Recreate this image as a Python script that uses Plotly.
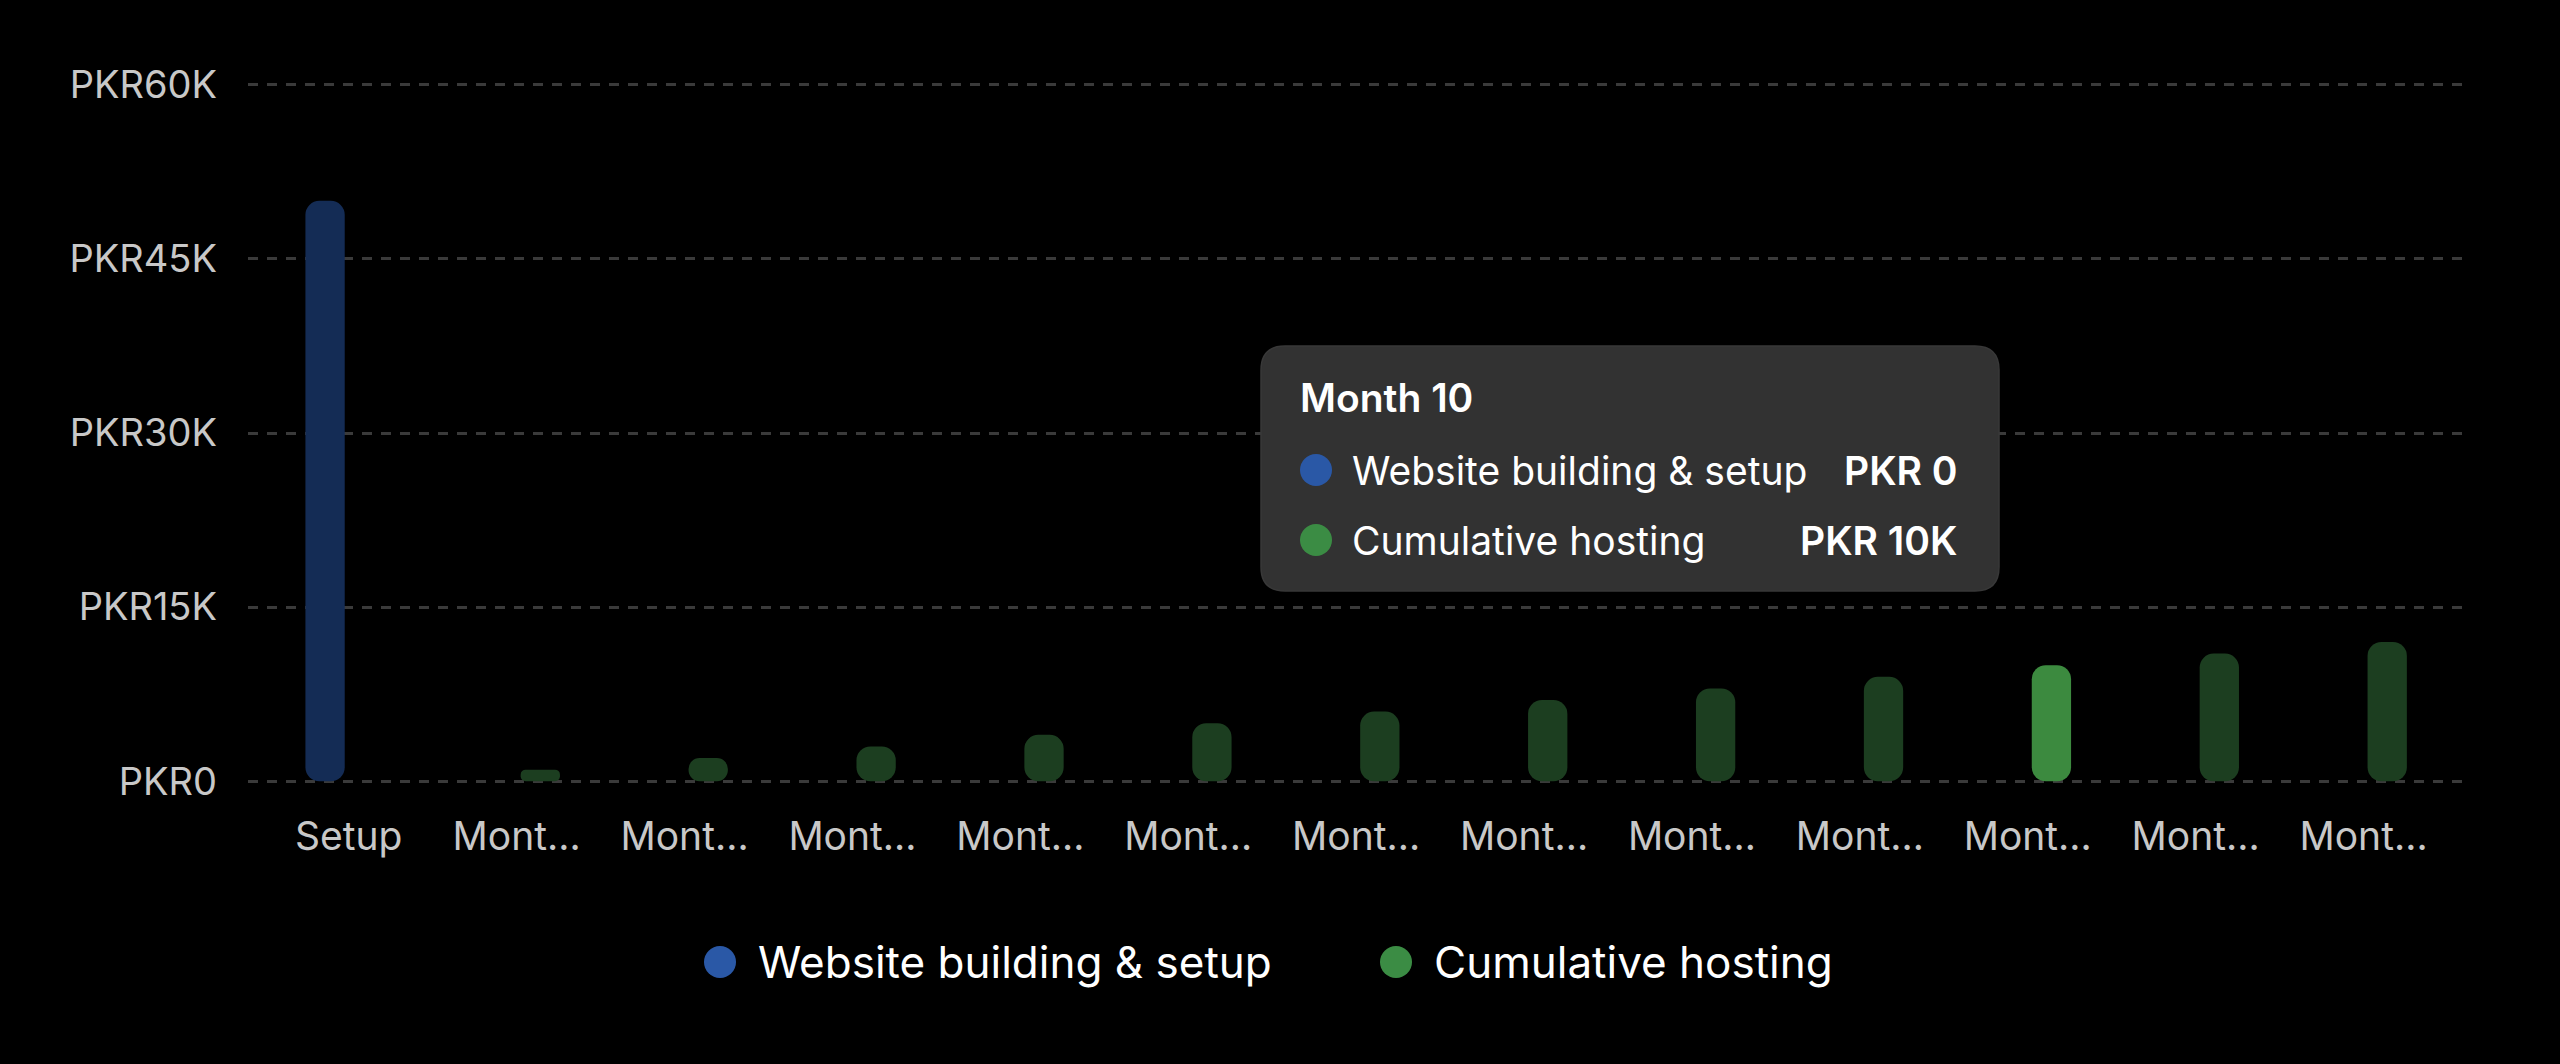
import plotly.graph_objects as go

# ---------------- data ----------------
categories = ["Setup", "Month 1", "Month 2", "Month 3", "Month 4", "Month 5", "Month 6",
              "Month 7", "Month 8", "Month 9", "Month 10", "Month 11", "Month 12"]
tick_labels = ["Setup", "Mont…", "Mont…", "Mont…", "Mont…", "Mont…", "Mont…",
               "Mont…", "Mont…", "Mont…", "Mont…", "Mont…", "Mont…"]
setup_values = [50000, 0, 0, 0, 0, 0, 0, 0, 0, 0, 0, 0, 0]
hosting_values = [0, 1000, 2000, 3000, 4000, 5000, 6000, 7000, 8000, 9000, 10000, 11000, 12000]
y_tick_vals = [0, 15000, 30000, 45000, 60000]
y_tick_text = ["PKR0", "PKR15K", "PKR30K", "PKR45K", "PKR60K"]
series_names = ["Website building & setup", "Cumulative hosting"]
hover_category = "Month 10"
hover_values = ["PKR 0", "PKR 10K"]

# ---------------- style ----------------
FONT = "Inter"
BLUE = "#2a58a6"
GREEN = "#3b8c44"
BLUE_BAR = "#142c55"
GREEN_BAR = "#1c3e20"
GREEN_HI = "#3c8a3f"
W, H = 2560, 1064
L, R, T, B = 248, 89, 83, 281
PW, PH = W - L - R, H - T - B


def px(x):
    return (x - L) / PW


def py(y):
    return (H - B - y) / PH


hi_idx = categories.index(hover_category)
green_colors = [GREEN_HI if i == hi_idx else GREEN_BAR for i in range(len(categories))]

fig = go.Figure()
for vals, colors, name in [(setup_values, BLUE_BAR, series_names[0]),
                           (hosting_values, green_colors, series_names[1])]:
    fig.add_trace(go.Bar(x=categories, y=vals, base=[0] * len(vals), name=name,
                         marker=dict(color=colors, line=dict(width=0)),
                         showlegend=False,
                         hovertemplate="%{x}<br>" + name + ": PKR %{y:,}<extra></extra>"))

shapes = []
annotations = []

# tooltip box (rounded rectangle)
bx0, bx1, by0, by1, rad = 1261, 1999, 346, 591, 24
rx, ry = rad / PW, rad / PH
x0, x1, y0, y1 = px(bx0), px(bx1), py(by1), py(by0)
path = (f"M {x0+rx},{y0} L {x1-rx},{y0} Q {x1},{y0} {x1},{y0+ry} "
        f"L {x1},{y1-ry} Q {x1},{y1} {x1-rx},{y1} L {x0+rx},{y1} "
        f"Q {x0},{y1} {x0},{y1-ry} L {x0},{y0+ry} Q {x0},{y0} {x0+rx},{y0} Z")
shapes.append(dict(type="path", path=path, xref="paper", yref="paper",
                   fillcolor="#323232", line=dict(color="#383838", width=1.5), layer="above"))

annotations.append(dict(x=px(1298), y=py(398), xref="paper", yref="paper", text=hover_category,
                        showarrow=False, xanchor="left", yanchor="middle",
                        font=dict(family=FONT, size=39, color="#ffffff", weight=600)))
for name, val, col, cy in zip(series_names, hover_values, [BLUE, GREEN], [470, 540]):
    shapes.append(dict(type="circle", xref="paper", yref="paper",
                       x0=px(1316 - 16), x1=px(1316 + 16), y0=py(cy + 16), y1=py(cy - 16),
                       fillcolor=col, line=dict(width=0), layer="above"))
    annotations.append(dict(x=px(1350), y=py(cy), xref="paper", yref="paper", text=name,
                            showarrow=False, xanchor="left", yanchor="middle",
                            font=dict(family=FONT, size=39, color="#ffffff")))
    annotations.append(dict(x=px(1960), y=py(cy), xref="paper", yref="paper", text=val,
                            showarrow=False, xanchor="right", yanchor="middle",
                            font=dict(family=FONT, size=39, color="#ffffff", weight=600)))

# legend (circle markers + text)
for name, col, cx, tx in zip(series_names, [BLUE, GREEN], [720, 1396], [756, 1432]):
    shapes.append(dict(type="circle", xref="paper", yref="paper",
                       x0=px(cx - 16), x1=px(cx + 16), y0=py(962 + 16), y1=py(962 - 16),
                       fillcolor=col, line=dict(width=0)))
    annotations.append(dict(x=px(tx), y=py(962), xref="paper", yref="paper", text=name,
                            showarrow=False, xanchor="left", yanchor="middle",
                            font=dict(family=FONT, size=44, color="#ffffff")))

fig.update_layout(
    width=W, height=H,
    margin=dict(l=L, r=R, t=T, b=B),
    paper_bgcolor="#000000", plot_bgcolor="#000000",
    barmode="group", bargap=0.436, bargroupgap=0.17,
    barcornerradius=14,
    font=dict(family=FONT, color="#c8c8c8"),
    showlegend=False,
    shapes=shapes, annotations=annotations,
    xaxis=dict(
        type="category", range=[-0.6, 12.64],
        tickmode="array", tickvals=categories, ticktext=tick_labels,
        tickfont=dict(family=FONT, size=39, color="#c8c8c8"),
        showgrid=False, zeroline=False, showline=False, ticks="",
        ticklabelstandoff=27, fixedrange=True,
    ),
    yaxis=dict(
        range=[-150, 60150], tickmode="array", tickvals=y_tick_vals, ticktext=y_tick_text,
        tickfont=dict(family=FONT, size=38, color="#c8c8c8"),
        showgrid=True, gridcolor="#3a3a3a", griddash="10px,9px", gridwidth=2.5,
        zeroline=False, showline=False, ticks="", ticklabelstandoff=30, fixedrange=True,
    ),
)

fig.write_html(
    "out.html",
    config={"displayModeBar": False},
    post_script="document.body.style.margin='0';document.body.style.background='#000';"
                "document.body.style.overflow='hidden';",
)
